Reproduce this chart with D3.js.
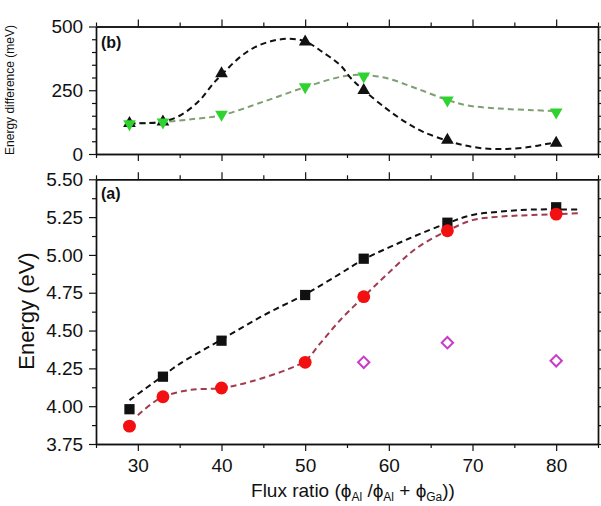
<!DOCTYPE html>
<html><head><meta charset="utf-8">
<script src="https://cdn.jsdelivr.net/npm/d3@7"></script>
<style>body{margin:0;background:#fff}svg{display:block;font-family:"Liberation Sans",Arial,sans-serif}</style>
</head><body><svg id="c" width="601" height="506"></svg>
<script>
const fluxRatio = [29, 33, 40, 50, 57, 67, 80];
// panel (b) energy differences (meV)
const diffBlack = [120, 126, 315, 440, 250, 55, 43];
const diffGreen = [118, 125, 155, 263, 305, 211, 164];
// panel (a) energies (eV)
const energyBlack = [3.98, 4.195, 4.433, 4.735, 4.975, 5.213, 5.315];
const energyRed = [3.868, 4.062, 4.12, 4.29, 4.724, 5.16, 5.27];
const diamondX = [57, 67, 80];
const energyDiamond = [4.29, 4.42, 4.30];
// guide-to-eye dashed curves
const fitDiffBlackX = [29, 31, 33, 35, 37.4, 39, 40, 42.2, 44, 46, 48, 50, 51.8, 54.2, 55.5, 57, 59.7, 62, 64.1, 67, 68.9, 71.3, 74.1, 76.9, 78.8, 80];
const fitDiffBlackY = [120, 121, 127, 150, 211, 276, 310, 380, 419, 443, 452, 442, 406, 348, 296, 250, 178, 125, 87, 52, 35, 22, 20, 28, 39, 46];
const fitDiffGreenX = [29, 31, 33, 36, 40, 45, 50, 54.6, 57, 59.9, 63.3, 67, 69.3, 73.3, 77.2, 80];
const fitDiffGreenY = [120, 122, 125, 135, 152, 205, 262, 305, 310, 296, 257, 212, 191, 178, 172, 168];
const fitEBlackX = [29, 31, 33, 35, 40, 45, 50, 54, 57, 62.5, 67, 70, 73.3, 77.2, 82.6];
const fitEBlackY = [4.04, 4.12, 4.2, 4.28, 4.44, 4.6, 4.74, 4.87, 4.97, 5.11, 5.21, 5.264, 5.286, 5.30, 5.30];
const fitERedX = [30, 31.5, 33, 36.2, 40, 43.4, 48.2, 50, 51.8, 54.2, 57, 59.7, 63.3, 67, 70, 73.3, 77.2, 82.6];
const fitERedY = [3.94, 4.01, 4.062, 4.107, 4.12, 4.161, 4.25, 4.3, 4.415, 4.57, 4.724, 4.867, 5.044, 5.16, 5.23, 5.253, 5.264, 5.275];
// ticks
const xMajor = [30, 40, 50, 60, 70, 80];
const xMinor = [25, 35, 45, 55, 65, 75, 85];
const topMajor = [0, 250, 500];
const topMinor = [50, 100, 150, 200, 300, 350, 400, 450];
const botMajor = [3.75, 4.00, 4.25, 4.50, 4.75, 5.00, 5.25, 5.50];
const botMinor = [3.875, 4.125, 4.375, 4.625, 4.875, 5.125, 5.375];

const svg = d3.select("#c");
const L = 96, R = 598;
const x = d3.scaleLinear().domain([25, 85]).range([L, R]);
const yT = d3.scaleLinear().domain([0, 500]).range([154, 26.5]);
const yB = d3.scaleLinear().domain([3.75, 5.5]).range([444, 179.3]);

function frame(y, major, minor, fmt, labelsBottom) {
  const [y0, y1] = y.range();
  const g = svg.append("g");
  const mk = (axis, tr) => {
    const a = g.append("g").attr("transform", tr).call(axis);
    a.select(".domain").attr("stroke", "#111").attr("stroke-width", 1.4);
    a.selectAll(".tick line").attr("stroke", "#111").attr("stroke-width", 1.2);
    return a;
  };
  const xb = mk(d3.axisBottom(x).tickValues(xMajor).tickSize(7).tickSizeOuter(0).tickFormat(labelsBottom ? d3.format("d") : ""), `translate(0,${y0})`);
  xb.selectAll("text").attr("font-size", 19).attr("fill", "#111").attr("dy", "0.95em");
  mk(d3.axisBottom(x).tickValues(xMinor).tickSize(4).tickSizeOuter(0).tickFormat(""), `translate(0,${y0})`);
  mk(d3.axisTop(x).tickValues(xMajor).tickSize(7).tickSizeOuter(0).tickFormat(""), `translate(0,${y1})`);
  mk(d3.axisTop(x).tickValues(xMinor).tickSize(4).tickSizeOuter(0).tickFormat(""), `translate(0,${y1})`);
  const yl = mk(d3.axisLeft(y).tickValues(major).tickSize(7).tickSizeOuter(0).tickFormat(fmt), `translate(${L},0)`);
  yl.selectAll("text").attr("font-size", 19).attr("fill", "#111").attr("dx", "-0.15em");
  mk(d3.axisLeft(y).tickValues(minor).tickSize(4).tickSizeOuter(0).tickFormat(""), `translate(${L},0)`);
  mk(d3.axisRight(y).tickValues(major).tickSize(7).tickSizeOuter(0).tickFormat(""), `translate(${R},0)`);
  mk(d3.axisRight(y).tickValues(minor).tickSize(4).tickSizeOuter(0).tickFormat(""), `translate(${R},0)`);
}
frame(yT, topMajor, topMinor, d3.format("d"), false);
frame(yB, botMajor, botMinor, d3.format(".2f"), true);

function curve(xs, ys, y, color) {
  const pts = xs.map((v, i) => [x(v), y(ys[i])]);
  svg.append("path").attr("d", d3.line().curve(d3.curveCatmullRom)(pts))
    .attr("fill", "none").attr("stroke", color).attr("stroke-width", 2)
    .attr("stroke-dasharray", "6,4");
}
curve(fitDiffGreenX, fitDiffGreenY, yT, "#7f9f72");
curve(fitDiffBlackX, fitDiffBlackY, yT, "#111");
curve(fitERedX, fitERedY, yB, "#a23a50");
curve(fitEBlackX, fitEBlackY, yB, "#111");

const sym = (type, size) => d3.symbol().type(type).size(size)();
function markers(xs, ys, y, type, size, fill, stroke, rot) {
  svg.append("g").selectAll("path").data(xs).join("path")
    .attr("d", sym(type, size))
    .attr("transform", (d, i) => `translate(${x(d)},${y(ys[i])}) rotate(${rot || 0})`)
    .attr("fill", fill).attr("stroke", stroke || "none").attr("stroke-width", 2);
}
markers(fluxRatio, diffBlack, yT, d3.symbolTriangle, 70, "#111");
markers(fluxRatio, diffGreen, yT, d3.symbolTriangle, 70, "#2fd32f", null, 180);
markers(fluxRatio, energyBlack, yB, d3.symbolSquare, 105, "#111");
markers(fluxRatio, energyRed, yB, d3.symbolCircle, 130, "#f21010");
markers(diamondX, energyDiamond, yB, d3.symbolSquare, 64, "none", "#c83cc8", 45);

svg.append("text").attr("x", 101).attr("y", 48).attr("font-size", 16).attr("font-weight", "bold").attr("fill", "#111").text("(b)");
svg.append("text").attr("x", 101).attr("y", 199).attr("font-size", 16).attr("font-weight", "bold").attr("fill", "#111").text("(a)");

svg.append("text").attr("transform", "translate(14,90) rotate(-90)").attr("text-anchor", "middle")
  .attr("font-size", 12).attr("fill", "#111").text("Energy difference (meV)");
svg.append("text").attr("transform", "translate(34,311) rotate(-90)").attr("text-anchor", "middle")
  .attr("font-size", 22).attr("fill", "#111").text("Energy (eV)");
const xt = svg.append("text").attr("x", 353).attr("y", 497).attr("text-anchor", "middle").attr("font-size", 19).attr("fill", "#111");
xt.append("tspan").text("Flux ratio (\u03d5");
xt.append("tspan").attr("font-size", 12).attr("baseline-shift", "-30%").text("Al");
xt.append("tspan").text(" /\u03d5");
xt.append("tspan").attr("font-size", 12).attr("baseline-shift", "-30%").text("Al");
xt.append("tspan").text(" + \u03d5");
xt.append("tspan").attr("font-size", 12).attr("baseline-shift", "-30%").text("Ga");
xt.append("tspan").text("))");
</script></body></html>
